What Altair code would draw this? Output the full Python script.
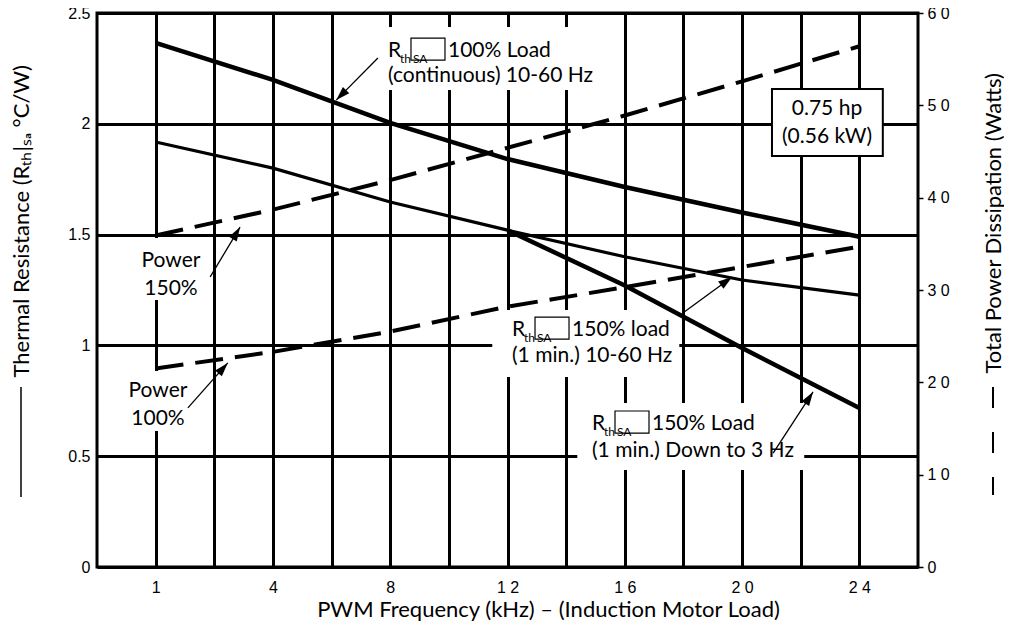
import math
import altair as alt
import pandas as pd

# ---------------- data ----------------
FREQ_KHZ = [1, 4, 8, 12, 16, 20, 24]
FREQ_TICK_TEXT = ["1", "4", "8", "1 2", "1 6", "2 0", "2 4"]

RTH_100_CONT = [2.365, 2.198, 2.004, 1.841, 1.715, 1.60, 1.49]       # 100% load, 10-60 Hz
RTH_150_1MIN = [1.918, 1.80, 1.647, 1.52, 1.40, 1.295, 1.227]        # 150% load, 10-60 Hz
RTH_150_3HZ_FREQ = [12, 16, 20, 24]
RTH_150_3HZ = [1.52, 1.27, 0.988, 0.717]                             # 150% load, down to 3 Hz
PWR_150 = [35.9, 38.7, 41.9, 45.4, 48.9, 52.6, 56.4]                  # Watts
PWR_100 = [21.5, 23.3, 25.5, 28.2, 30.3, 32.5, 34.7]                  # Watts

LEFT_TICKS = [0, 0.5, 1, 1.5, 2, 2.5]
LEFT_TICK_TEXT = ["0", "0.5", "1", "1.5", "2", "2.5"]
RIGHT_TICKS = [0, 10, 20, 30, 40, 50, 60]
RIGHT_TICK_TEXT = ["0", "1 0", "2 0", "3 0", "4 0", "5 0", "6 0"]

# ---------------- layout ----------------
W, H = 821, 554
X_DOMAIN = [0, 14]
R_DOMAIN = [0, 2.5]
P_DOMAIN = [0, 60]
FONT = "Lato"
TICK_FONT = "Liberation Sans"
ANN_SIZE = 21
TITLE_SIZE = 22


def slot(f):
    # the printed axis spaces the labelled frequencies evenly, two grid cells apart
    return 2 * FREQ_KHZ.index(f) + 1


def ternary(values, texts, default="''"):
    expr = default
    for v, t in reversed(list(zip(values, texts))):
        expr = f"datum.value == {v} ? '{t}' : ({expr})"
    return expr


x_axis = alt.Axis(
    values=list(range(1, 14)),
    labelExpr=ternary([slot(f) for f in FREQ_KHZ], FREQ_TICK_TEXT),
    grid=True, gridColor="black", gridWidth=3,
    ticks=False, domain=False,
    labelFont=TICK_FONT, labelFontSize=16, labelPadding=12, labelColor="black",
    title="PWM Frequency (kHz) – (Induction Motor Load)",
    titleFont=FONT, titleFontSize=TITLE_SIZE, titleFontWeight="normal", titleColor="black",
    titleX=451, titleY=49, titleAlign="center", titleBaseline="alphabetic",
)

left_axis = alt.Axis(
    orient="left",
    values=LEFT_TICKS,
    labelExpr=ternary(LEFT_TICKS, LEFT_TICK_TEXT),
    grid=True, gridColor="black", gridWidth=3,
    ticks=False, domain=False,
    labelFont=TICK_FONT, labelFontSize=16, labelPadding=7, labelColor="black",
    title="Thermal Resistance (Rₜₕ|ₛₐ °C/W)",
    titleFont=FONT, titleFontSize=TITLE_SIZE, titleFontWeight="normal", titleColor="black",
    titleAngle=270, titleAlign="left", titleBaseline="middle",
    titleX=-76, titleY=364,
)

right_axis = alt.Axis(
    orient="right",
    values=RIGHT_TICKS,
    labelExpr=ternary(RIGHT_TICKS, RIGHT_TICK_TEXT),
    grid=False, domain=False,
    ticks=True, tickSize=5, tickWidth=1.5, tickColor="black",
    labelFont=TICK_FONT, labelFontSize=16, labelPadding=4, labelColor="black",
    title="Total Power Dissipation (Watts)",
    titleFont=FONT, titleFontSize=TITLE_SIZE, titleFontWeight="normal", titleColor="black",
    titleAngle=270, titleAlign="left", titleBaseline="middle",
    titleX=75, titleY=360,
)


def X(field):
    return alt.X(f"{field}:Q", scale=alt.Scale(domain=X_DOMAIN, nice=False, zero=False), axis=x_axis)


def YR(field, axis=None):
    return alt.Y(f"{field}:Q", scale=alt.Scale(domain=R_DOMAIN, nice=False, zero=False), axis=axis)


# ---------------- tables ----------------
rth_thick = pd.DataFrame({
    "series": ["100% continuous"] * len(FREQ_KHZ) + ["150% down to 3 Hz"] * len(RTH_150_3HZ_FREQ),
    "slot": [slot(f) for f in FREQ_KHZ] + [slot(f) for f in RTH_150_3HZ_FREQ],
    "rth": RTH_100_CONT + RTH_150_3HZ,
})
rth_thin = pd.DataFrame({
    "series": ["150% 1 min"] * len(FREQ_KHZ),
    "slot": [slot(f) for f in FREQ_KHZ],
    "rth": RTH_150_1MIN,
})
power = pd.DataFrame({
    "series": ["Power 150%"] * len(FREQ_KHZ) + ["Power 100%"] * len(FREQ_KHZ),
    "slot": [slot(f) for f in FREQ_KHZ] * 2,
    "watts": PWR_150 + PWR_100,
})

# white label backgrounds that interrupt the grid (slot / R units)
masks = pd.DataFrame({
    "x1": [4.91, 6.74, 8.19, 0.53, 0.43],
    "x2": [8.58, 9.93, 12.06, 1.84, 1.67],
    "y1": [2.153, 0.857, 0.438, 1.205, 0.614],
    "y2": [2.437, 1.16, 0.74, 1.485, 0.884],
})
hp_box = pd.DataFrame({"x1": [11.51], "x2": [13.40], "y1": [1.855], "y2": [2.157]})

r_anchor = pd.DataFrame({
    "x": [4.962, 7.077, 8.441],
    "y": [2.301, 1.042, 0.618],
    "rest": ["100% Load", "150% load", "150% Load"],
})
left_text = pd.DataFrame({
    "x": [4.962, 7.077, 8.441],
    "y": [2.189, 0.925, 0.496],
    "text": ["(continuous) 10-60 Hz", "(1 min.) 10-60 Hz", "(1 min.) Down to 3 Hz"],
})
center_text = pd.DataFrame({
    "x": [1.262, 1.262, 1.040, 1.040, 12.448, 12.448],
    "y": [1.354, 1.227, 0.767, 0.641, 2.040, 1.913],
    "text": ["Power", "150%", "Power", "100%", "0.75 hp", "(0.56 kW)"],
})

arrows = pd.DataFrame({
    "x0": [4.79, 1.93, 1.55, 9.99, 11.53],
    "y0": [2.297, 1.309, 0.718, 1.146, 0.514],
    "x1": [4.08, 2.44, 2.23, 10.83, 12.21],
    "y1": [2.107, 1.534, 0.921, 1.309, 0.790],
})
px_x = W / (X_DOMAIN[1] - X_DOMAIN[0])
px_y = H / (R_DOMAIN[1] - R_DOMAIN[0])
arrows["angle"] = [
    math.degrees(math.atan2((b - a) * px_x, (d - c) * px_y)) % 360
    for a, b, c, d in zip(arrows.x0, arrows.x1, arrows.y0, arrows.y1)
]

one = pd.DataFrame({"k": [0]})

# ---------------- layers ----------------
mask_layer = alt.Chart(masks).mark_rect(fill="white", stroke=None).encode(
    x=X("x1"), x2="x2", y=YR("y1", left_axis), y2="y2"
)

thick_lines = alt.Chart(rth_thick).mark_line(color="black", strokeWidth=4.5).encode(
    x=X("slot"), y=YR("rth"), detail="series:N"
)
thin_line = alt.Chart(rth_thin).mark_line(color="black", strokeWidth=3.2).encode(
    x=X("slot"), y=YR("rth"), detail="series:N"
)
power_lines = alt.Chart(power).mark_line(color="black", strokeWidth=4, strokeDash=[28, 12]).encode(
    x=X("slot"),
    y=alt.Y("watts:Q", scale=alt.Scale(domain=P_DOMAIN, nice=False, zero=False), axis=right_axis),
    detail="series:N",
)

hp_layer = alt.Chart(hp_box).mark_rect(fill="white", stroke="black", strokeWidth=2).encode(
    x=X("x1"), x2="x2", y=YR("y1"), y2="y2"
)


def txt(df, align, size, dx=0, dy=0, field="text", value=None):
    enc = dict(x=X("x"), y=YR("y"))
    enc["text"] = alt.value(value) if value is not None else alt.Text(f"{field}:N")
    return alt.Chart(df).mark_text(
        align=align, baseline="alphabetic", font=FONT, fontSize=size,
        color="black", dx=dx, dy=dy,
    ).encode(**enc)


r_main = txt(r_anchor, "left", ANN_SIZE, value="R")
r_th = txt(r_anchor, "left", 12, dx=12, dy=6, value="th")
r_sa = txt(r_anchor, "left", 12, dx=25, dy=6, value="SA")
r_box = alt.Chart(r_anchor).mark_point(
    shape="M-1,-0.65H1V0.65H-1Z", size=1156, filled=False,
    stroke="black", strokeWidth=1.2, opacity=1, xOffset=40, yOffset=-8,
).encode(x=X("x"), y=YR("y"))
r_rest = txt(r_anchor, "left", ANN_SIZE, dx=60, field="rest")
line2 = txt(left_text, "left", ANN_SIZE)
centered = txt(center_text, "center", ANN_SIZE)

arrow_lines = alt.Chart(arrows).mark_rule(color="black", strokeWidth=1.3).encode(
    x=X("x0"), y=YR("y0"), x2="x1", y2="y1"
)
arrow_heads = alt.Chart(arrows).mark_point(
    shape="M0,0L-0.32,1L0.32,1Z", size=784, filled=True,
    fill="black", stroke=None, opacity=1,
).encode(x=X("x1"), y=YR("y1"), angle=alt.Angle("angle:Q", scale=None))

# legend keys drawn beside the axis titles
solid_key = alt.Chart(one).mark_rule(color="black", strokeWidth=1.5).encode(
    x=alt.value(-76), y=alt.value(374), y2=alt.value(484)
)
dash_key = alt.Chart(one).mark_rule(color="black", strokeWidth=2, strokeDash=[21, 24]).encode(
    x=alt.value(W + 75), y=alt.value(374), y2=alt.value(482)
)

chart = alt.layer(
    mask_layer, thick_lines, thin_line, power_lines, hp_layer,
    r_main, r_th, r_sa, r_box, r_rest, line2, centered,
    arrow_lines, arrow_heads, solid_key, dash_key,
).resolve_scale(y="independent").properties(
    width=W, height=H,
    autosize=alt.AutoSizeParams(type="none"),
    padding={"left": 89, "top": 5, "right": 86, "bottom": 62},
    background="white",
).configure_view(stroke="black", strokeWidth=3)

chart.save("out.html", embed_options={"renderer": "svg", "actions": False})
